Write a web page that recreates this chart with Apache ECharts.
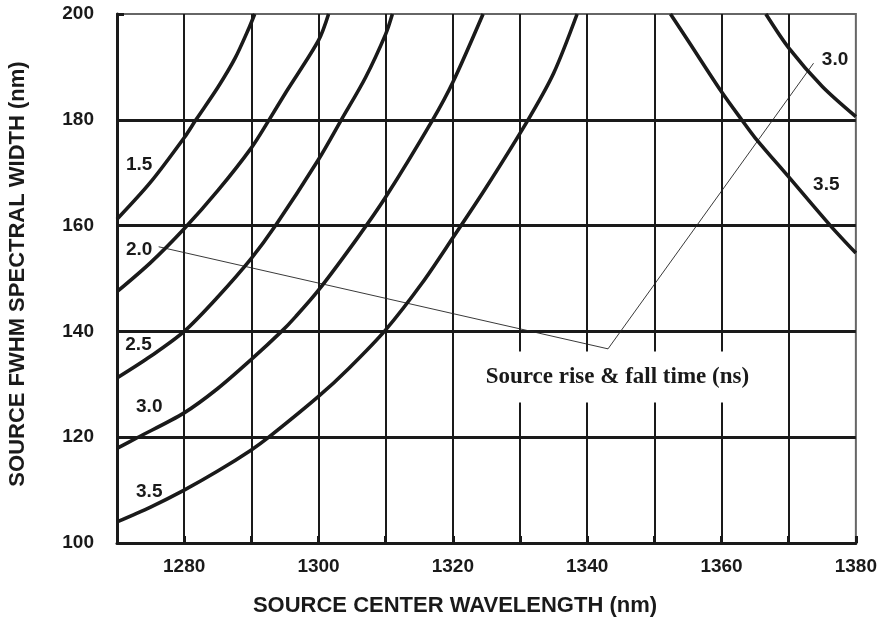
<!DOCTYPE html>
<html><head><meta charset="utf-8">
<script src="https://cdn.jsdelivr.net/npm/echarts/dist/echarts.min.js"></script>
<style>html,body{margin:0;padding:0;background:#fff}#c{width:880px;height:621px}</style>
</head><body><div id="c"></div>
<script>
// Axis ranges / ticks
const xMin = 1270, xMax = 1380, xStep = 10, xLabelStep = 20;
const yMin = 100, yMax = 200, yStep = 20;

// Rising curves (source rise & fall time, ns): [wavelength nm, FWHM nm]
const curve15 = [[1270,161.2],[1275,168.2],[1280,176.6],[1281.7,179.9],[1285,186.1],[1287.6,191.7],[1289.7,197.5],[1290.5,200]];
const curve20 = [[1270,147.5],[1275,153],[1280,159.4],[1285,166.6],[1290,174.7],[1292.6,179.9],[1295.2,185.3],[1300,195],[1301.5,200]];
const curve25 = [[1270,131.2],[1275,135.3],[1280,140],[1285,146.5],[1290,153.8],[1293.6,160],[1300,172.5],[1303.4,180],[1307,188],[1310,196.2],[1311,200]];
const curve30 = [[1270,117.9],[1273,119.9],[1280,124.6],[1285,129.2],[1290,134.7],[1294.5,140],[1296.6,142.8],[1300,147.8],[1305.7,157.5],[1310,165.4],[1317,180],[1320,187.1],[1324.5,200]];
const curve35 = [[1270,104],[1275,106.8],[1280,110],[1285,113.6],[1290,117.6],[1292.6,120],[1300,127.7],[1304.5,133.0],[1310,140.3],[1315.4,149.1],[1320,157.7],[1325,167.3],[1331.2,180],[1335,188.8],[1338.5,200]];
// Falling curves on the right
const curveR30 = [[1366.6,200],[1370,193.6],[1375,186.3],[1380,180.6]];
const curveR35 = [[1352.4,200],[1355,195],[1360,185.3],[1363,180],[1365,176.6],[1370,169.2],[1376.2,160],[1380,154.8]];

// Curve labels
const labelText = ['1.5','2.0','2.5','3.0','3.5','3.0','3.5'];
const labelX = [1273.3,1273.3,1273.2,1274.8,1274.8,1376.9,1375.6];
const labelY = [171.5,155.4,137.4,125.7,109.6,191.3,167.7];

// Leader line for the annotation
const leaderX = [1276.2,1343.1,1373.7];
const leaderY = [156.0,136.7,190.7];
const noteText = 'Source rise & fall time (ns)';
const noteX = 1344.5, noteY = 131.4;

const xTitle = 'SOURCE CENTER WAVELENGTH (nm)';
const yTitle = 'SOURCE FWHM SPECTRAL WIDTH (nm)';

const curves = [curve15, curve20, curve25, curve30, curve35, curveR30, curveR35];
const ink = '#1a1a1a';
const sans = '"Liberation Sans", Arial, sans-serif';

const series = curves.map(d => ({
  type: 'line', data: d, smooth: 0.3, symbol: 'none', silent: true, z: 5,
  lineStyle: { color: ink, width: 3.6 }
}));
series.push({
  type: 'line', data: leaderX.map((x, i) => [x, leaderY[i]]), symbol: 'none', silent: true, z: 3,
  lineStyle: { color: '#222', width: 0.9 }
});
series.push({
  type: 'scatter', data: [[noteX, noteY]], symbolSize: 0, silent: true, z: 4,
  itemStyle: { opacity: 1, color: '#fff' },
  emphasis: { disabled: true },
  label: { show: true, position: 'inside', formatter: noteText, backgroundColor: '#ffffff',
    opacity: 1, padding: [14, 15], color: ink, textBorderWidth: 0,
    fontFamily: '"Liberation Serif", "Times New Roman", serif',
    fontWeight: 'bold', fontSize: 23 }
});
series.push({
  type: 'scatter', data: labelX.map((x, i) => [x, labelY[i], labelText[i]]), symbolSize: 0, silent: true, z: 6,
  itemStyle: { opacity: 1, color: ink },
  emphasis: { disabled: true },
  label: { show: true, position: 'inside', formatter: p => p.data[2], color: ink, opacity: 1,
    textBorderWidth: 0, fontFamily: sans, fontWeight: 'bold', fontSize: 19 }
});

const chart = echarts.init(document.getElementById('c'), null, { renderer: 'canvas' });
chart.setOption({
  animation: false,
  backgroundColor: '#fff',
  grid: { left: 117, right: 24, top: 14, bottom: 78, show: true, borderColor: '#666', borderWidth: 2 },
  xAxis: {
    type: 'value', min: xMin, max: xMax, interval: xStep,
    axisLine: { show: true, onZero: false, lineStyle: { color: ink, width: 3 } },
    axisTick: { show: true, inside: true, length: 7, lineStyle: { color: ink, width: 3 } },
    axisLabel: { margin: 14, color: ink, fontFamily: sans, fontWeight: 'bold', fontSize: 19,
      formatter: v => (v % xLabelStep === 0 ? String(v) : '') },
    splitLine: { show: true, showMaxLine: false, lineStyle: { color: ink, width: 2 } }
  },
  yAxis: {
    type: 'value', min: yMin, max: yMax, interval: yStep,
    axisLine: { show: true, onZero: false, lineStyle: { color: ink, width: 3 } },
    axisTick: { show: true, inside: true, length: 7, lineStyle: { color: ink, width: 3 } },
    axisLabel: { margin: 23, color: ink, fontFamily: sans, fontWeight: 'bold', fontSize: 19 },
    splitLine: { show: true, showMaxLine: false, lineStyle: { color: ink, width: 3 } }
  },
  graphic: [
    { type: 'text', x: 455, y: 606, silent: true,
      style: { text: xTitle, align: 'center', verticalAlign: 'middle', fill: ink,
        fontFamily: sans, fontWeight: 'bold', fontSize: 22 } },
    { type: 'text', x: 18, y: 274, rotation: Math.PI / 2, silent: true,
      style: { text: yTitle, align: 'center', verticalAlign: 'middle', fill: ink,
        fontFamily: sans, fontWeight: 'bold', fontSize: 22 } }
  ],
  series: series
});
</script>
</body></html>
